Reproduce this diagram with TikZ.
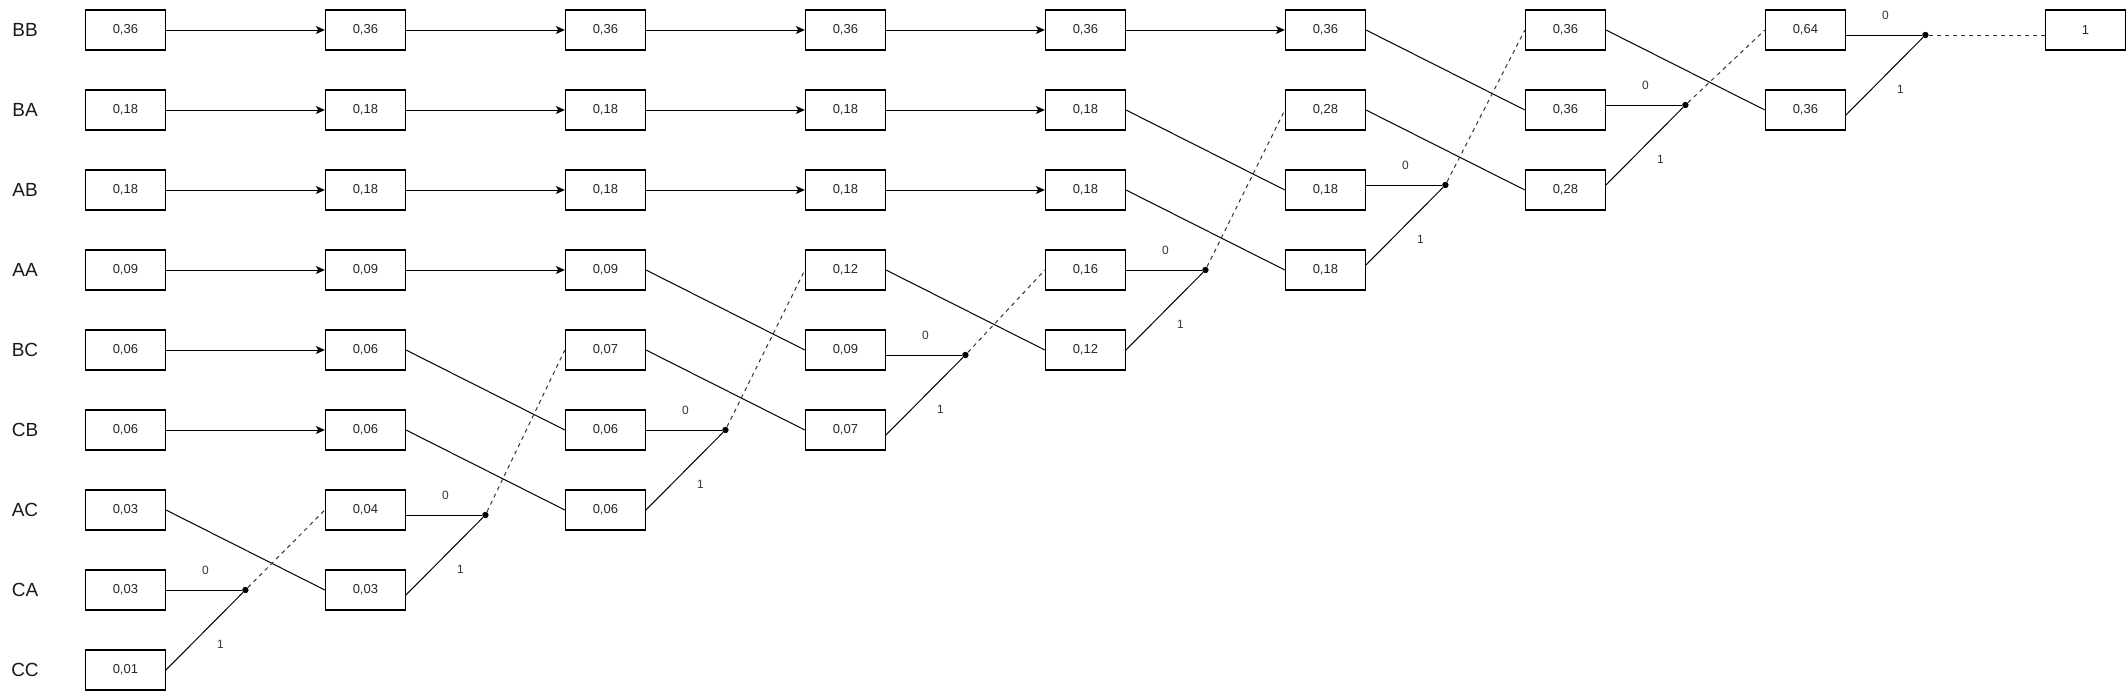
\documentclass[tikz,border=0pt]{standalone}
\usepackage{fontspec}
\setmainfont{Liberation Sans}
\usetikzlibrary{arrows.meta,calc}
\begin{document}
\begin{tikzpicture}[x=0.5pt,y=-0.5pt,
 box/.style={draw,line width=0.55pt,minimum width=40pt,minimum height=20pt,inner sep=0pt,font=\fontsize{6.5}{7}\selectfont,text=black!85},
 lbl/.style={font=\fontsize{9.5}{11}\selectfont,inner sep=0pt,text=black!90},
 elbl/.style={font=\fontsize{6}{7}\selectfont,inner sep=0pt,text=black!80},
 arr/.style={line width=0.5pt,-{Stealth[length=4.5pt,width=4pt,inset=1.2pt]}},
 seg/.style={line width=0.5pt},
 dsh/.style={line width=0.5pt,dash pattern=on 2pt off 2pt,draw=black!80},
 dot/.style={circle,fill,inner sep=0pt,minimum size=3.2pt}
]
\useasboundingbox (0,0) rectangle (2126,691);
% row labels
\node[lbl] (lBB) at (25,30) {BB};
\node[lbl] (lBA) at (25,110) {BA};
\node[lbl] (lAB) at (25,190) {AB};
\node[lbl] (lAA) at (25,270) {AA};
\node[lbl] (lBC) at (25,350) {BC};
\node[lbl] (lCB) at (25,430) {CB};
\node[lbl] (lAC) at (25,510) {AC};
\node[lbl] (lCA) at (25,590) {CA};
\node[lbl] (lCC) at (25,670) {CC};
% boxes
\foreach \r/\v in {1/36,2/18,3/18,4/09,5/06,6/06,7/03,8/03,9/01}
  \node[box] (n1\r) at (125.4,{30+80*(\r-1)}) {0,\v};
\foreach \r/\v in {1/36,2/18,3/18,4/09,5/06,6/06,7/04,8/03}
  \node[box] (n2\r) at (365.4,{30+80*(\r-1)}) {0,\v};
\foreach \r/\v in {1/36,2/18,3/18,4/09,5/07,6/06,7/06}
  \node[box] (n3\r) at (605.4,{30+80*(\r-1)}) {0,\v};
\foreach \r/\v in {1/36,2/18,3/18,4/12,5/09,6/07}
  \node[box] (n4\r) at (845.4,{30+80*(\r-1)}) {0,\v};
\foreach \r/\v in {1/36,2/18,3/18,4/16,5/12}
  \node[box] (n5\r) at (1085.4,{30+80*(\r-1)}) {0,\v};
\foreach \r/\v in {1/36,2/28,3/18,4/18}
  \node[box] (n6\r) at (1325.4,{30+80*(\r-1)}) {0,\v};
\foreach \r/\v in {1/36,2/36,3/28}
  \node[box] (n7\r) at (1565.4,{30+80*(\r-1)}) {0,\v};
\foreach \r/\v in {1/64,2/36}
  \node[box] (n8\r) at (1805.4,{30+80*(\r-1)}) {0,\v};
\node[box] (fin) at (2085.4,30) {1};
% merge dots
\node[dot] (d1) at (245.4,590) {};
\node[dot] (d2) at (485.4,515) {};
\node[dot] (d3) at (725.4,430) {};
\node[dot] (d4) at (965.4,355) {};
\node[dot] (d5) at (1205.4,270) {};
\node[dot] (d6) at (1445.4,185) {};
\node[dot] (d7) at (1685.4,105) {};
\node[dot] (d8) at (1925.4,35) {};
% straight arrows
\foreach \r in {1,...,6} \draw[arr] (n1\r) -- (n2\r);
\foreach \r in {1,...,4} \draw[arr] (n2\r) -- (n3\r);
\foreach \r in {1,...,3} \draw[arr] (n3\r) -- (n4\r);
\foreach \r in {1,...,3} \draw[arr] (n4\r) -- (n5\r);
\draw[arr] (n51) -- (n61);
% pass-through slanted lines
\draw[seg] (n17.east) -- (n28.west);
\draw[seg] (n25.east) -- (n36.west);
\draw[seg] (n26.east) -- (n37.west);
\draw[seg] (n34.east) -- (n45.west);
\draw[seg] (n35.east) -- (n46.west);
\draw[seg] (n44.east) -- (n55.west);
\draw[seg] (n52.east) -- (n63.west);
\draw[seg] (n53.east) -- (n64.west);
\draw[seg] (n61.east) -- (n72.west);
\draw[seg] (n62.east) -- (n73.west);
\draw[seg] (n71.east) -- (n82.west);
% merges: 0 branch, 1 branch, dashed result
\draw[seg] (d1 -| n18.east) -- (d1);
\draw[seg] (n19.east) -- (d1);
\draw[dsh] (d1) -- (n27.west);
\draw[seg] (d2 -| n27.east) -- (d2);
\draw[seg] ($(n28.east)+(0,5)$) -- (d2);
\draw[dsh] (d2) -- (n35.west);
\draw[seg] (d3 -| n36.east) -- (d3);
\draw[seg] (n37.east) -- (d3);
\draw[dsh] (d3) -- (n44.west);
\draw[seg] (d4 -| n45.east) -- (d4);
\draw[seg] ($(n46.east)+(0,5)$) -- (d4);
\draw[dsh] (d4) -- (n54.west);
\draw[seg] (d5 -| n54.east) -- (d5);
\draw[seg] (n55.east) -- (d5);
\draw[dsh] (d5) -- (n62.west);
\draw[seg] (d6 -| n63.east) -- (d6);
\draw[seg] ($(n64.east)+(0,-5)$) -- (d6);
\draw[dsh] (d6) -- (n71.west);
\draw[seg] (d7 -| n72.east) -- (d7);
\draw[seg] ($(n73.east)+(0,-5)$) -- (d7);
\draw[dsh] (d7) -- (n81.west);
\draw[seg] (d8 -| n81.east) -- (d8);
\draw[seg] ($(n82.east)+(0,5)$) -- (d8);
\draw[dsh] (d8) -- (d8 -| fin.west);
% edge labels
\foreach \k in {1,...,8} {
  \node[elbl] (z\k) at ($(d\k)+(-40,-20)$) {0};
  \node[elbl] (o\k) at ($(d\k)+(-25,54)$) {1};
}
\end{tikzpicture}
\end{document}
